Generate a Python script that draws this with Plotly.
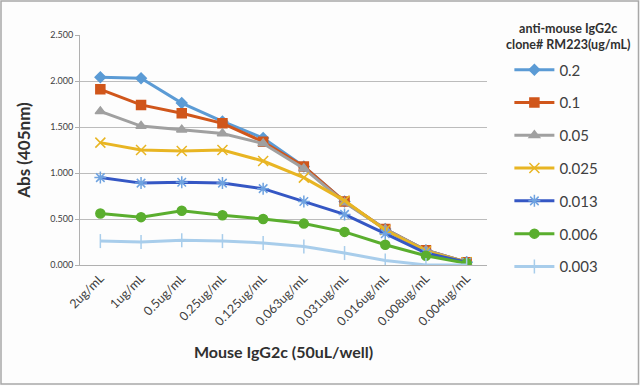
import plotly.graph_objects as go

categories = ["2ug/mL", "1ug/mL", "0.5ug/mL", "0.25ug/mL", "0.125ug/mL",
              "0.063ug/mL", "0.031ug/mL", "0.016ug/mL", "0.008ug/mL", "0.004ug/mL"]

series_names = ["0.2", "0.1", "0.05", "0.025", "0.013", "0.006", "0.003"]

v_02 = [2.04, 2.03, 1.76, 1.56, 1.38, 1.07, 0.69, 0.39, 0.16, 0.03]
v_01 = [1.91, 1.74, 1.65, 1.54, 1.34, 1.07, 0.69, 0.39, 0.16, 0.03]
v_005 = [1.67, 1.51, 1.47, 1.43, 1.32, 1.05, 0.68, 0.39, 0.16, 0.03]
v_0025 = [1.33, 1.25, 1.24, 1.25, 1.13, 0.95, 0.70, 0.38, 0.15, 0.03]
v_0013 = [0.95, 0.89, 0.90, 0.89, 0.83, 0.69, 0.55, 0.34, 0.13, 0.03]
v_0006 = [0.56, 0.52, 0.59, 0.54, 0.50, 0.45, 0.36, 0.22, 0.10, 0.02]
v_0003 = [0.26, 0.25, 0.27, 0.26, 0.24, 0.20, 0.13, 0.05, 0.00, 0.00]

legend_title = "<b>anti-mouse IgG2c<br>clone# RM223(ug/mL)</b>"

values = [v_02, v_01, v_005, v_0025, v_0013, v_0006, v_0003]
colors = ["#5B9BD5", "#D0561B", "#A0A0A0", "#E8B523", "#3557C4", "#5AAE2E", "#A8CDEB"]
marker_colors = ["#5B9BD5", "#D0561B", "#A0A0A0", "#E8B523", "#6FA3E0", "#5AAE2E", "#A8CDEB"]
symbols = ["diamond", "square", "triangle-up", "x-thin-open", "asterisk-open", "circle", "line-ns-open"]
sizes = [8, 9, 9, 10, 10, 9, 10]

FONT = "Lato"

fig = go.Figure()
for i, (name, vals) in enumerate(zip(series_names, values)):
    fig.add_trace(go.Scatter(
        x=categories, y=vals, name=name, mode="lines+markers",
        legendgroup=name,
        line=dict(color=colors[i], width=3),
        marker=dict(symbol=symbols[i], size=sizes[i], color=marker_colors[i],
                    line=dict(color=marker_colors[i], width=1.5)),
    ))

fig.update_layout(
    width=640, height=386,
    margin=dict(l=80, r=153, t=35, b=121, autoexpand=False),
    paper_bgcolor="#fdfdfd", plot_bgcolor="#fdfdfd",
    font=dict(family=FONT, color="#404040"),
    showlegend=True,
    legend=dict(
        x=1.055, y=0.92, xanchor="left", yanchor="top",
        traceorder="grouped", tracegroupgap=10.3,
        font=dict(size=15, color="#404040", family=FONT),
        itemwidth=40, bgcolor="rgba(0,0,0,0)", maxheight=380,
    ),
    xaxis=dict(
        type="category", showgrid=False, showline=True, linecolor="#b0b0b0",
        tickangle=-45, tickfont=dict(size=12.5, color="#404040"),
        ticks="", range=[-0.5, 9.5],
        title=dict(text="<b>Mouse IgG2c (50uL/well)</b>", font=dict(size=16, color="#303030"),
                   standoff=18),
    ),
    yaxis=dict(
        range=[0, 2.5], dtick=0.5, tickformat=".3f", showgrid=True,
        gridcolor="#bcbcbc", gridwidth=1, showline=True, linecolor="#b0b0b0",
        ticks="outside", ticklen=4, tickcolor="#b0b0b0",
        tickfont=dict(size=9, color="#404040"), zeroline=False,
        title=dict(text="<b>Abs (405nm)</b>", font=dict(size=17, color="#303030"), standoff=15),
    ),
)

fig.add_annotation(text=legend_title, xref="paper", yref="paper",
                   x=(568 - 80) / 407, y=1 + (35 - 19) / 230, xanchor="center", yanchor="top",
                   showarrow=False, align="center",
                   font=dict(size=12.5, color="#303030", family=FONT))

# outer frame
fig.add_shape(type="rect", xref="paper", yref="paper",
              x0=-79/407, x1=(640-1.5-80)/407, y0=-(121-2)/230, y1=(35-1)/230 + 1,
              line=dict(color="#a8a8a8", width=1.5), layer="below")

fig.write_html("out.html", config={"displayModeBar": False},
               post_script="document.body.style.margin='0';")
